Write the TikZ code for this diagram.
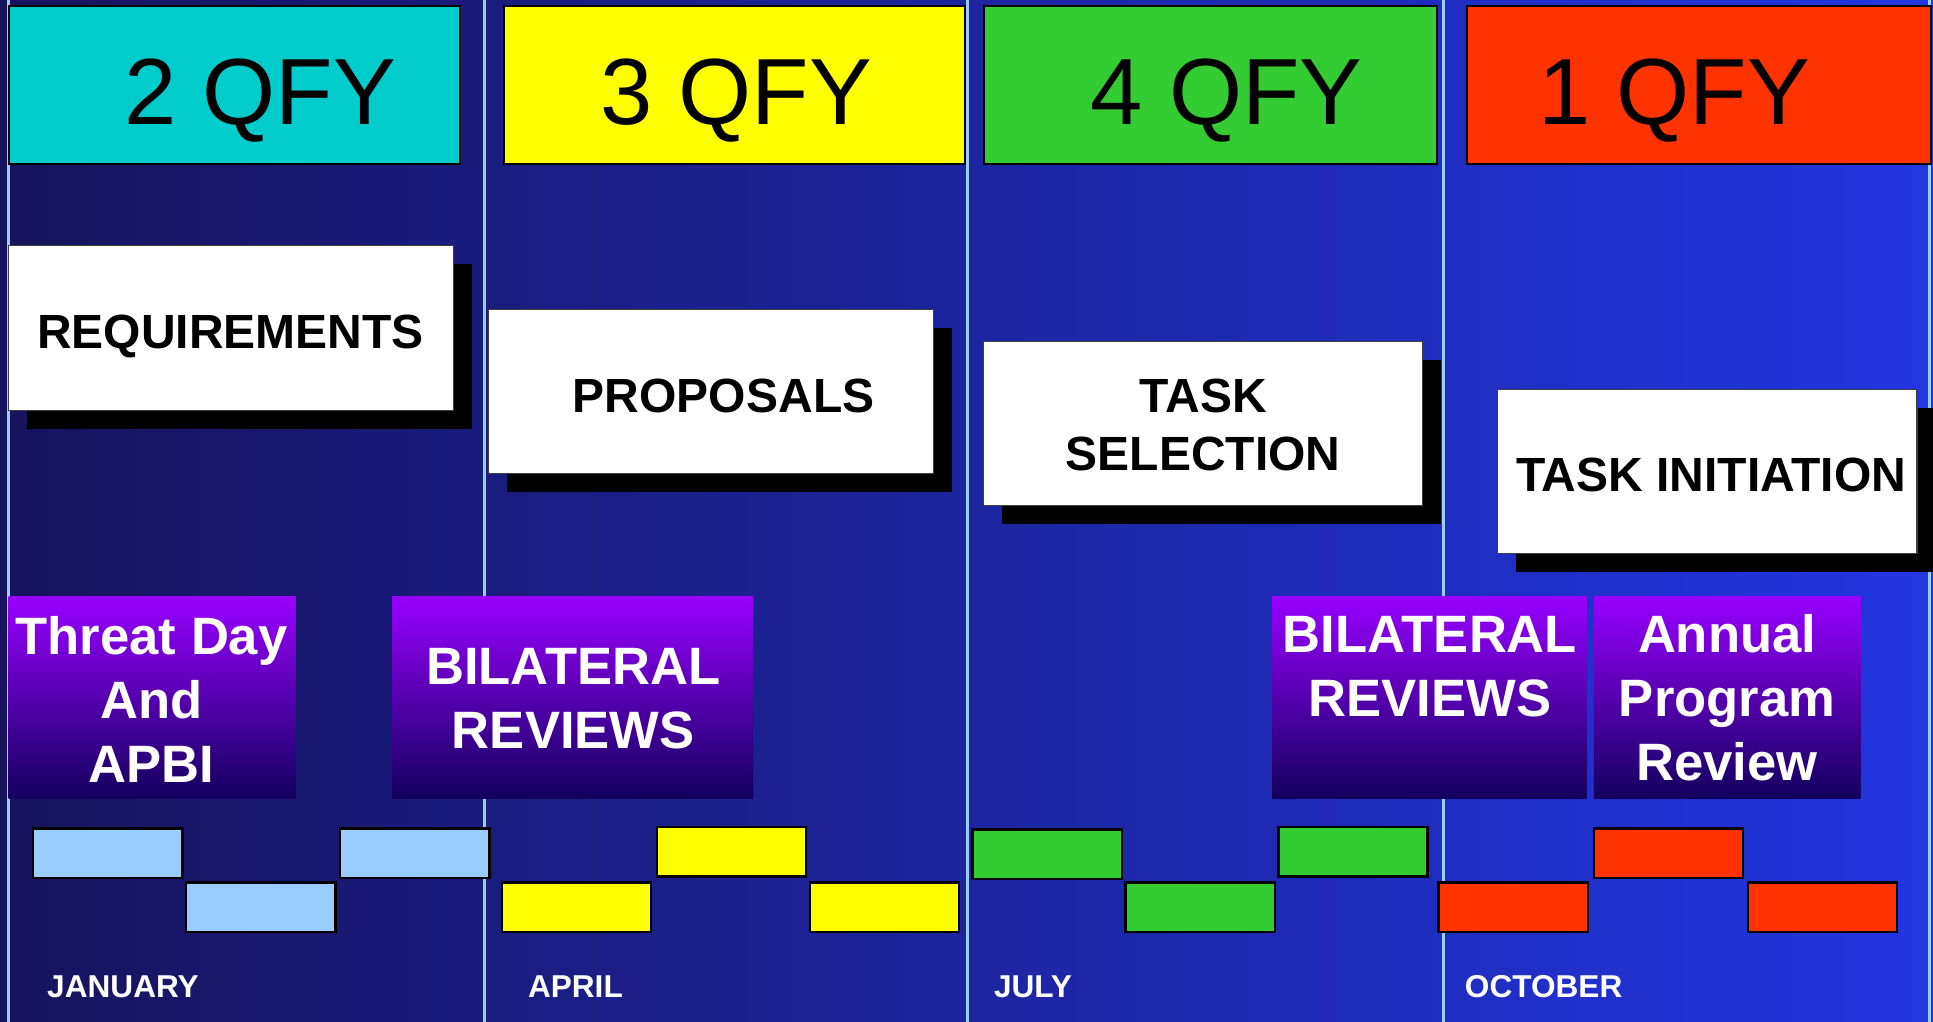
\documentclass[tikz,border=0pt]{standalone}
\usepackage{fontspec}
\setmainfont{Liberation Sans}
\definecolor{Ink}{HTML}{17135C}
\definecolor{Royal}{HTML}{1C2396}
\definecolor{Bright}{HTML}{2236E2}
\definecolor{Sky}{HTML}{99CCFF}
\definecolor{Teal}{HTML}{00CCCC}
\definecolor{Lemon}{HTML}{FFFF00}
\definecolor{Leaf}{HTML}{33CC33}
\definecolor{Flame}{HTML}{FF3300}
\definecolor{Violet}{HTML}{9900FF}
\definecolor{Plum}{HTML}{6300D8}
\definecolor{Deep}{HTML}{12005E}

\begin{document}
\begin{tikzpicture}[x=0.6164pt,y=-0.6164pt,
    qfy/.style={anchor=base,text=black,font=\fontsize{47}{56}\selectfont},
    boxlabel/.style={text=black,align=center,font=\fontsize{24}{29}\selectfont\bfseries},
    review/.style={text=white,align=center,font=\fontsize{26.3}{32}\selectfont\bfseries},
    month/.style={anchor=base west,inner sep=0pt,text=white,font=\fontsize{15.8}{19}\selectfont\bfseries}]
    \useasboundingbox (0,0) rectangle (1568,829);
    \shade[left color=Ink,middle color=Royal,right color=Bright] (0,0) rectangle (1568,829);
    \foreach \x in {7,393,785,1171,1565}{\draw[Sky,line width=1.3pt] (\x,0) -- (\x,829);}

    % quarter headers
    \foreach \xa/\xb/\c in {7/373/Teal,409/783/Lemon,798/1166/Leaf,1190/1566/Flame}{\filldraw[fill=\c,draw=black,line width=1pt] (\xa,5) rectangle (\xb,133);}
    \node (q2) [qfy] at (211,101) {2 QFY};
    \node (q3) [qfy] at (597,101) {3 QFY};
    \node (q4) [qfy] at (995,101) {4 QFY};
    \node (q1) [qfy] at (1358,101) {1 QFY};

    % phase boxes with their shadows
    \foreach \xa/\ya/\xb/\yb in {7/199/368/333,396/251/757/384,798/277/1154/410,1215/316/1555/449}{
        \fill[black] (\xa+15,\ya+15) rectangle (\xb+15,\yb+15);
        \filldraw[fill=white,draw=black!75,line width=0.6pt] (\xa,\ya) rectangle (\xb,\yb);}
    \node (req) [boxlabel,anchor=base] at (187,283) {REQUIREMENTS};
    \node (prop) [boxlabel,anchor=base] at (587,335) {PROPOSALS};
    \node (tsel) [boxlabel] at (976,345) {TASK\\SELECTION};
    \node (tinit) [boxlabel,anchor=base] at (1388,399) {TASK INITIATION};

    % review events
    \foreach \xa/\xb in {7/240,318/611,1032/1287,1293/1509}{\shade[top color=Violet,middle color=Plum,bottom color=Deep] (\xa,484) rectangle (\xb,648);}
    \node (threat) [review] at (123,567) {Threat Day\\And\\APBI};
    \node (bil1) [review] at (465,567) {BILATERAL\\REVIEWS};
    \node (bil2) [review] at (1160,541) {BILATERAL\\REVIEWS};
    \node (annual) [review] at (1401,566) {Annual\\Program\\Review};

    % staggered bars
    \foreach \xa/\ya/\c in {27/672/Sky,151/716/Sky,276/672/Sky,
                            407/716/Lemon,533/671/Lemon,657/716/Lemon,
                            789/673/Leaf,913/716/Leaf,1037/671/Leaf,
                            1167/716/Flame,1293/672/Flame,1418/716/Flame}
        {\filldraw[fill=\c,draw=black,line width=1.2pt] (\xa,\ya) rectangle ++(121,40);}

    \node (jan) [month] at (38,809) {JANUARY};
    \node (apr) [month] at (428,809) {APRIL};
    \node (jul) [month] at (806,809) {JULY};
    \node (oct) [month] at (1188,809) {OCTOBER};
\end{tikzpicture}
\end{document}
